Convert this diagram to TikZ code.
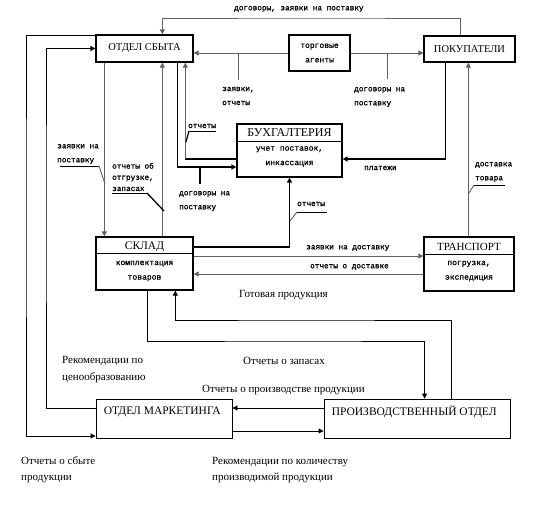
\documentclass[tikz,border=0pt]{standalone}
\usepackage{fontspec}
\setmainfont{Liberation Serif}
\newfontfamily\monof[FakeBold=1.2]{Liberation Mono}
\usetikzlibrary{arrows.meta,calc}
\begin{document}
\begin{tikzpicture}[x=1pt,y=-1pt,
  box/.style={draw,line width=1.3pt,inner sep=0pt},
  pbox/.style={draw,line width=0.8pt,inner sep=0pt},
  arr/.style={-{Triangle[length=5pt,width=5pt]}},
  gline/.style={draw=black!62,line width=0.9pt},
  kline/.style={draw=black,line width=1.6pt},
  tline/.style={draw=black,line width=0.8pt},
  ml/.style={font=\monof\fontsize{7.7}{14}\selectfont,inner sep=0pt,anchor=west,align=left},
  sl/.style={font=\fontsize{11}{16}\selectfont,inner sep=0pt,anchor=west,align=left},
  title/.style={font=\fontsize{10.5}{12}\selectfont,inner sep=0pt},
  sub/.style={font=\monof\fontsize{8}{14.5}\selectfont,inner sep=0pt,align=center},
]
\useasboundingbox (0,0) rectangle (541,529);

% boxes
\node[box,title,minimum width=97pt,minimum height=27pt] (sbyt) at (144.5,48.5) {ОТДЕЛ СБЫТА};
\node[box,sub,minimum width=61pt,minimum height=36pt] (agents) at (319.5,53) {торговые\\агенты};
\node[box,title,minimum width=91pt,minimum height=26pt] (pokup) at (469.5,49) {ПОКУПАТЕЛИ};

\node[box,minimum width=105pt,minimum height=53pt] (buh) at (289.5,150.5) {};
\draw[line width=1pt] ([yshift=8.5pt]buh.west) -- ([yshift=8.5pt]buh.east);
\node[title,font=\fontsize{12}{12}\selectfont] (buhT) at ([yshift=-9pt]buh.north) {БУХГАЛТЕРИЯ};
\node[sub] (buhS) at ([yshift=-6pt]buh.center) {учет поставок,\\инкассация};

\node[box,minimum width=97pt,minimum height=53pt] (sklad) at (144.5,263.5) {};
\draw[line width=1pt] ([yshift=9.5pt]sklad.west) -- ([yshift=9.5pt]sklad.east);
\node[title,font=\fontsize{11.5}{12}\selectfont] (skladT) at ([yshift=-11pt]sklad.north) {СКЛАД};
\node[sub] (skladS) at ([yshift=-7.5pt]sklad.center) {комплектация\\товаров};

\node[box,minimum width=90pt,minimum height=54pt] (transp) at (469,264) {};
\draw[line width=1pt] ([yshift=9pt]transp.west) -- ([yshift=9pt]transp.east);
\node[title,font=\fontsize{11}{12}\selectfont] (transpT) at ([yshift=-11pt]transp.north) {ТРАНСПОРТ};
\node[sub] (transpS) at ([yshift=-7pt]transp.center) {погрузка,\\экспедиция};

\node[pbox,minimum width=136pt,minimum height=39pt] (market) at (164,418.5) {};
\node[sl,font=\fontsize{11.5}{12}\selectfont] (marketT) at ([xshift=8pt,yshift=-13pt]market.north west) {ОТДЕЛ МАРКЕТИНГА};
\node[pbox,minimum width=186pt,minimum height=39pt] (proizv) at (417,418.5) {};
\node[sl,font=\fontsize{11.5}{12}\selectfont] (proizvT) at ([xshift=8pt,yshift=-13pt]proizv.north west) {ПРОИЗВОДСТВЕННЫЙ ОТДЕЛ};

% helper coordinates
\coordinate (topY) at (312,18);
\coordinate (xL) at (26,200);
\coordinate (xL2) at (46,200);
\coordinate (zapY) at (300,341);
\coordinate (gotY) at (300,320);
\coordinate (s186) at ([xshift=90pt]sbyt.south west);
\coordinate (b159) at ([yshift=-8.5pt]buh.west);

% upper connectors
\draw[gline,arr] ([xshift=37pt]pokup.north west) |- (topY) -| ([xshift=67pt]sbyt.north west);
\draw[gline,arr] (agents.west) -- (agents.west -| sbyt.east);
\draw[gline,arr] (agents.east) -- (agents.east -| pokup.west);
\draw[kline,arr] ([xshift=22pt]pokup.south west) |- ([yshift=-8.5pt]buh.east);
\draw[gline,arr] ([xshift=45pt]transp.north west) -- ([xshift=45pt]pokup.south west);
\draw[gline,arr] ([yshift=7.5pt]sklad.east) -- ([yshift=7.5pt]sklad.east -| transp.west);
\draw[gline,arr] ([yshift=-10.5pt]sklad.east -| transp.west) -- ([yshift=-10.5pt]sklad.east);
\draw[kline,arr] ([yshift=16.5pt]sklad.east) -| (buh.south);
\draw[gline,arr] ([xshift=9pt]sbyt.south west) -- ([xshift=9pt]sklad.north west);
\draw[gline,arr] ([xshift=67pt]sklad.north west) -- ([xshift=67pt]sbyt.south west);
\draw[kline,arr] ([xshift=82pt]sbyt.south west) |- ([yshift=-16.5pt]buh.west);
\draw[kline] (b159) -- (s186 |- b159);
\draw[gline,arr] (s186 |- b159) -- (s186);

% outer and lower connectors
\draw[tline,arr] ([yshift=-1pt]sbyt.north west) -| (xL) |- ([yshift=-17.5pt]market.west);
\draw[tline,arr] ([yshift=10.5pt]market.west) -| (xL2) |- (sbyt.west);
\draw[tline,arr] ([yshift=10.5pt]proizv.west) -- ([yshift=10.5pt]market.east);
\draw[tline,arr] ([yshift=-12.5pt]market.east) -- ([yshift=-12.5pt]proizv.west);
\draw[tline,arr] ([xshift=52pt]sklad.south west) |- (zapY) -| ([xshift=101pt]proizv.north west);
\draw[tline,arr] ([xshift=128pt]proizv.north west) |- (gotY) -| ([xshift=80pt]sklad.south west);

% leader ticks
\draw[gline] (238,53) -- (238,80);
\draw[gline] (387,53) -- (387,79);
\draw[kline,line width=1.3pt] (200,167) -- (200,184);
\draw[tline,line width=0.6pt] (60,166) -- (99,166);
\draw[gline] (99,166) -- (105,184);
\draw[tline,line width=0.6pt] (112,193) -- (147,193);
\draw[kline,line width=1.3pt] (147,193) -- (164,211);
\draw[tline,line width=0.6pt] (189,131) -- (216,131);
\draw[kline,line width=1.2pt] (189,131) -- (186,142);
\draw[tline,line width=0.6pt] (297,212) -- (327,212);
\draw[gline] (297,212) -- (290,221);
\draw[tline,line width=0.6pt] (474,185) -- (505,185);
\draw[gline] (474,185) -- (469,193);

% mono labels
\node[ml] (l1) at (234,9) {договоры, заявки на поставку};
\node[ml] (l2) at (222,96) {заявки,\\отчеты};
\node[ml] (l3) at (354,97) {договоры на\\поставку};
\node[ml] (l4) at (364,168) {платежи};
\node[ml] (l5) at (475,172) {доставка\\товара};
\node[ml] (l6) at (306,248) {заявки на доставку};
\node[ml] (l7) at (310,267) {отчеты о доставке};
\node[ml] (l8) at (297,204) {отчеты};
\node[ml] (l9) at (57,154) {заявки на\\поставку};
\node[ml,font=\monof\fontsize{7.7}{11.2}\selectfont] (l10) at (112,177) {отчеты об\\отгрузке,\\запасах};
\node[ml] (l11) at (179,201) {договоры на\\поставку};
\node[ml] (l12) at (188,126) {отчеты};

% serif labels
\node[sl] (s1) at (239,295) {Готовая продукция};
\node[sl] (s2) at (243,361) {Отчеты о запасах};
\node[sl] (s3) at (202,390) {Отчеты о производстве продукции};
\node[sl,font=\fontsize{11}{17}\selectfont] (s4) at (62,369.5) {Рекомендации по\\ценообразованию};
\node[sl] (s5) at (21,470) {Отчеты о сбыте\\продукции};
\node[sl] (s6) at (212,470) {Рекомендации по количеству\\производимой продукции};
\end{tikzpicture}
\end{document}
